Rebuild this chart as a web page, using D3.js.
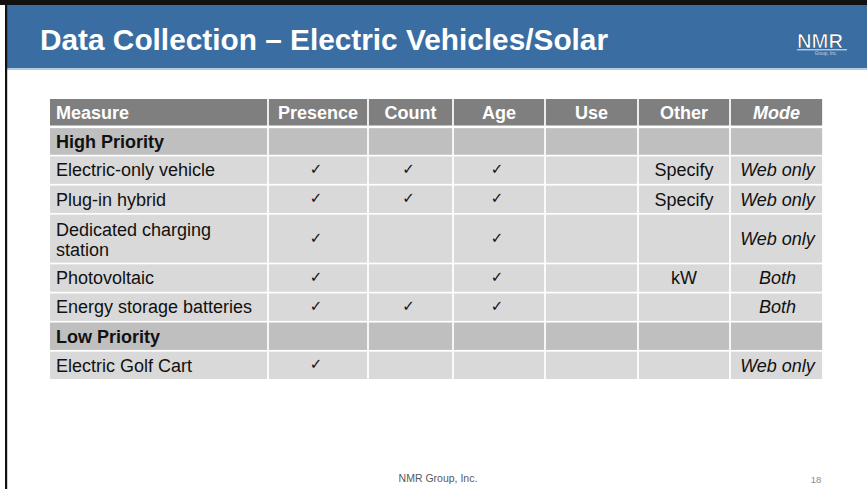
<!DOCTYPE html>
<html>
<head>
<meta charset="utf-8">
<script src="https://cdn.jsdelivr.net/npm/d3@7"></script>
<style>
  html, body { margin: 0; padding: 0; background: #fff; }
  svg { display: block; }
  text { font-family: "Liberation Sans", Arial, sans-serif; }
</style>
</head>
<body>
<svg id="chart" width="867" height="489"></svg>
<script>
// ---- data ----
const title = "Data Collection \u2013 Electric Vehicles/Solar";
const columns = ["Measure", "Presence", "Count", "Age", "Use", "Other", "Mode"];
const measures = ["High Priority", "Electric-only vehicle", "Plug-in hybrid", "Dedicated charging station",
                  "Photovoltaic", "Energy storage batteries", "Low Priority", "Electric Golf Cart"];
const rowTypes = ["group", "item", "item", "item", "item", "item", "group", "item"];
const presence = [0, 1, 1, 1, 1, 1, 0, 1];
const count    = [0, 1, 1, 0, 0, 1, 0, 0];
const age      = [0, 1, 1, 1, 1, 1, 0, 0];
const use      = [0, 0, 0, 0, 0, 0, 0, 0];
const other    = ["", "Specify", "Specify", "", "kW", "", "", ""];
const mode     = ["", "Web only", "Web only", "Web only", "Both", "Both", "", "Web only"];
const footer = "NMR Group, Inc.";
const pageNumber = "18";

// ---- layout ----
const svg = d3.select("#chart");
const W = 867, H = 489;

svg.append("rect").attr("width", W).attr("height", H).attr("fill", "#fff");
// header band
svg.append("rect").attr("x", 7).attr("y", 5).attr("width", W - 7).attr("height", 63).attr("fill", "#3a6ea3");
svg.append("rect").attr("x", 7).attr("y", 68).attr("width", W - 7).attr("height", 2).attr("fill", "#b7cce3");
// black frame (top + left)
svg.append("rect").attr("x", 0).attr("y", 0).attr("width", W).attr("height", 5).attr("fill", "#111");
svg.append("rect").attr("x", 5).attr("y", 0).attr("width", 2.2).attr("height", H).attr("fill", "#111");

svg.append("text").attr("x", 40).attr("y", 50)
  .attr("fill", "#fff").attr("font-weight", "bold").attr("font-size", 29.8)
  .text(title);

// logo
const logo = svg.append("g");
logo.append("text").attr("x", 820).attr("y", 47.5).attr("text-anchor", "middle")
  .attr("font-size", 20).attr("font-weight", "bold").attr("fill", "#fff")
  .attr("stroke", "#24466c").attr("stroke-width", 0.6).attr("textLength", 46)
  .attr("lengthAdjust", "spacingAndGlyphs").text("NMR");
logo.append("rect").attr("x", 797).attr("y", 49.3).attr("width", 50).attr("height", 1).attr("fill", "#e8eef6");
logo.append("text").attr("x", 826).attr("y", 55).attr("text-anchor", "middle")
  .attr("font-size", 4.5).attr("fill", "#c9d6e6").text("Group, Inc.");

// table
const colWeights = [218, 100, 85, 92, 93, 92, 93];
const tableLeft = 50, tableRight = 823;
const colEdges = [0];
colWeights.forEach(w => colEdges.push(colEdges[colEdges.length - 1] + w));
const xs = d3.scaleLinear().domain([0, colEdges[colEdges.length - 1]]).range([tableLeft, tableRight]);

const headerTop = 99, headerH = 27.5, rowH = 29.1, lineH = 20.6;
const nLines = measures.map(m => m === "Dedicated charging station" ? 2 : 1);
const rowTops = [];
let yy = headerTop + headerH;
nLines.forEach(n => { rowTops.push(yy); yy += rowH + (n - 1) * lineH; });
const gap = 1.7;
const fontSize = 18;

const table = svg.append("g");

// header cells
columns.forEach((c, i) => {
  const x0 = xs(colEdges[i]), x1 = xs(colEdges[i + 1]);
  table.append("rect")
    .attr("x", x0 + (i === 0 ? 0 : gap / 2)).attr("y", headerTop)
    .attr("width", x1 - x0 - (i === 0 ? gap / 2 : gap)).attr("height", headerH - 1)
    .attr("fill", "#7f7f7f");
  table.append("text")
    .attr("x", i === 0 ? x0 + 6 : (x0 + x1) / 2)
    .attr("y", headerTop + headerH / 2 + 6.3)
    .attr("text-anchor", i === 0 ? "start" : "middle")
    .attr("font-size", fontSize).attr("font-weight", "bold")
    .attr("font-style", c === "Mode" ? "italic" : "normal")
    .attr("fill", "#fff").text(c);
});

const cellValues = (r) => [measures[r], presence[r], count[r], age[r], use[r], other[r], mode[r]];

measures.forEach((m, r) => {
  const top = rowTops[r] + (r === 0 ? 0.8 : 0);
  const h = rowH + (nLines[r] - 1) * lineH;
  const bottom = rowTops[r] + h;
  const fill = rowTypes[r] === "group" ? "#bfbfbf" : "#d9d9d9";
  const vals = cellValues(r);
  const cy = (top + bottom) / 2;
  vals.forEach((v, i) => {
    const x0 = xs(colEdges[i]), x1 = xs(colEdges[i + 1]);
    table.append("rect")
      .attr("x", x0 + (i === 0 ? 0 : gap / 2)).attr("y", top + gap / 2)
      .attr("width", x1 - x0 - (i === 0 ? gap / 2 : gap)).attr("height", bottom - top - gap)
      .attr("fill", fill);
    if (i === 0) {
      const t = table.append("text")
        .attr("x", x0 + 6)
        .attr("font-size", fontSize)
        .attr("font-weight", rowTypes[r] === "group" ? "bold" : "normal")
        .attr("fill", "#111");
      const words = v.split(" ");
      const lines = [];
      if (nLines[r] > 1) {
        lines.push(words.slice(0, words.length - 1).join(" "));
        lines.push(words[words.length - 1]);
      } else lines.push(v);
      const firstBase = cy + 6.3 - (lines.length - 1) * lineH / 2 + (lines.length > 1 ? 1.5 : 0);
      lines.forEach((ln, k) => {
        t.append("tspan").attr("x", x0 + 6).attr("y", firstBase + k * 19.8).text(ln);
      });
    } else if (typeof v === "number") {
      if (v) {
        table.append("text")
          .attr("x", (x0 + x1) / 2 - 2).attr("y", cy - 1)
          .attr("text-anchor", "middle")
          .attr("dominant-baseline", "central")
          .style("font-family", "'DejaVu Sans', sans-serif")
          .attr("font-size", 15).attr("fill", "#111")
          .text("\u2713");
      }
    } else if (v) {
      table.append("text")
        .attr("x", (x0 + x1) / 2 + (i === 6 ? 1 : 0)).attr("y", cy + 6.3)
        .attr("text-anchor", "middle")
        .attr("font-size", fontSize)
        .attr("font-style", i === 6 ? "italic" : "normal")
        .attr("fill", "#111").text(v);
    }
  });
});

// footer
svg.append("text").attr("x", 438).attr("y", 482).attr("text-anchor", "middle")
  .attr("font-size", 10.5).attr("fill", "#595959").text(footer);
svg.append("text").attr("x", 816).attr("y", 483).attr("text-anchor", "middle")
  .attr("font-size", 9.5).attr("fill", "#8c8c8c").text(pageNumber);
</script>
</body>
</html>
